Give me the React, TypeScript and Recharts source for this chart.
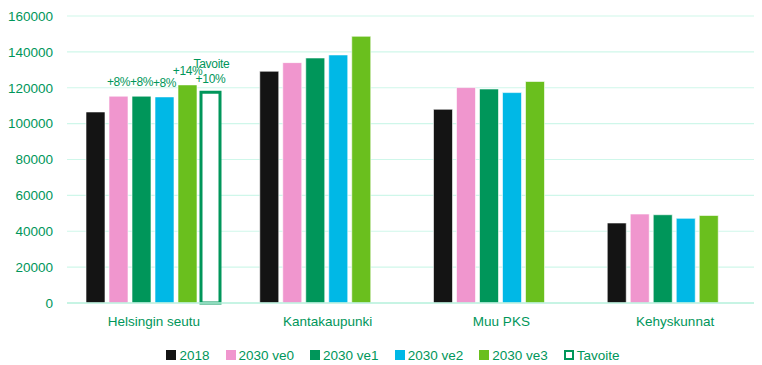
import React from "react";
import { BarChart, Bar, XAxis, YAxis, CartesianGrid, Legend, LabelList } from "recharts";

const categories = ["Helsingin seutu", "Kantakaupunki", "Muu PKS", "Kehyskunnat"];
const v2018 = [106500, 129200, 108000, 44600];
const ve0 = [115300, 134000, 120100, 49600];
const ve1 = [115300, 136600, 119300, 49200];
const ve2 = [114900, 138300, 117300, 47200];
const ve3 = [121600, 148700, 123500, 48800];
const tavoite = [117500, null, null, null];

const ve0Labels = ["+8%", "", "", ""];
const ve1Labels = ["+8%", "", "", ""];
const ve2Labels = ["+8%", "", "", ""];
const ve3Labels = ["+14%", "", "", ""];
const tavoiteLabels = [["Tavoite", "+10%"], [], [], []];

const yTicks = [0, 20000, 40000, 60000, 80000, 100000, 120000, 140000, 160000];

const GREEN = "#00965A";
const FONT = "'Liberation Sans', Arial, sans-serif";

const series = [
  { key: "v2018", name: "2018", color: "#141414" },
  { key: "ve0", name: "2030 ve0", color: "#F096CE" },
  { key: "ve1", name: "2030 ve1", color: "#00965A" },
  { key: "ve2", name: "2030 ve2", color: "#00B8E6" },
  { key: "ve3", name: "2030 ve3", color: "#6ABF1E" },
];

const data = categories.map((c, i) => ({
  name: c,
  v2018: v2018[i],
  ve0: ve0[i],
  ve1: ve1[i],
  ve2: ve2[i],
  ve3: ve3[i],
  tavoite: tavoite[i],
  ve0Label: ve0Labels[i],
  ve1Label: ve1Labels[i],
  ve2Label: ve2Labels[i],
  ve3Label: ve3Labels[i],
  tavoiteLabel: tavoiteLabels[i],
}));

const PctLabel = (props: any) => {
  const { x, y, width, value } = props;
  if (!value) return null;
  return (
    <text x={x + width / 2} y={y - 10} textAnchor="middle" fill={GREEN} fontSize={12} letterSpacing={-0.4} fontFamily={FONT}>
      {value}
    </text>
  );
};

const TargetLabel = (props: any) => {
  const { x, y, width, value } = props;
  if (!value || !value.length) return null;
  return (
    <g>
      <text x={x + width / 2 + 1} y={y - 24} textAnchor="middle" fill={GREEN} fontSize={12} letterSpacing={-0.3} fontFamily={FONT}>
        {value[0]}
      </text>
      <text x={x + width / 2} y={y - 9} textAnchor="middle" fill={GREEN} fontSize={12} letterSpacing={-0.3} fontFamily={FONT}>
        {value[1]}
      </text>
    </g>
  );
};

const LegendContent = () => (
  <div
    style={{
      display: "flex",
      justifyContent: "center",
      alignItems: "center",
      height: 20,
      paddingLeft: 16,
      fontFamily: FONT,
      fontSize: 13.5,
      color: GREEN,
    }}
  >
    {series.map((s) => (
      <div key={s.key} style={{ display: "flex", alignItems: "center", marginRight: 16 }}>
        <span style={{ width: 10, height: 10, background: s.color, marginRight: 3, display: "inline-block" }} />
        {s.name}
      </div>
    ))}
    <div style={{ display: "flex", alignItems: "center" }}>
      <span
        style={{
          width: 6,
          height: 6,
          border: `2.5px solid ${GREEN}`,
          background: "#fff",
          marginRight: 3,
          display: "inline-block",
        }}
      />
      Tavoite
    </div>
  </div>
);

export default function App() {
  return (
    <BarChart
      width={754}
      height={357}
      data={data}
      margin={{ top: 8, right: 0, bottom: 0, left: 0 }}
      barGap={4}
      barCategoryGap={19}
    >
      <CartesianGrid vertical={false} stroke="#CFF7EA" strokeWidth={1.2} />
      <XAxis
        dataKey="name"
        height={42}
        tickLine={false}
        axisLine={{ stroke: "#BDF2DF", strokeWidth: 1.5 }}
        tickSize={6}
        tickMargin={7}
        tick={{ fill: GREEN, fontSize: 13.5, fontFamily: FONT }}
      />
      <YAxis
        width={59}
        domain={[0, 160000]}
        ticks={yTicks}
        interval={0}
        axisLine={false}
        tickLine={false}
        tickSize={6}
        tickMargin={8}
        tick={{ fill: GREEN, fontSize: 13.5, fontFamily: FONT }}
      />
      <Legend verticalAlign="bottom" content={<LegendContent />} wrapperStyle={{ height: 20 }} />
      {series.map((s) => (
        <Bar key={s.key} dataKey={s.key} name={s.name} fill={s.color} stroke="#ffffff" strokeWidth={0.6} isAnimationActive={false}>
          {s.key !== "v2018" && <LabelList dataKey={`${s.key}Label`} content={<PctLabel />} />}
        </Bar>
      ))}
      <Bar dataKey="tavoite" name="Tavoite" fill="#ffffff" stroke={GREEN} strokeWidth={3} isAnimationActive={false}>
        <LabelList dataKey="tavoiteLabel" content={<TargetLabel />} />
      </Bar>
    </BarChart>
  );
}
